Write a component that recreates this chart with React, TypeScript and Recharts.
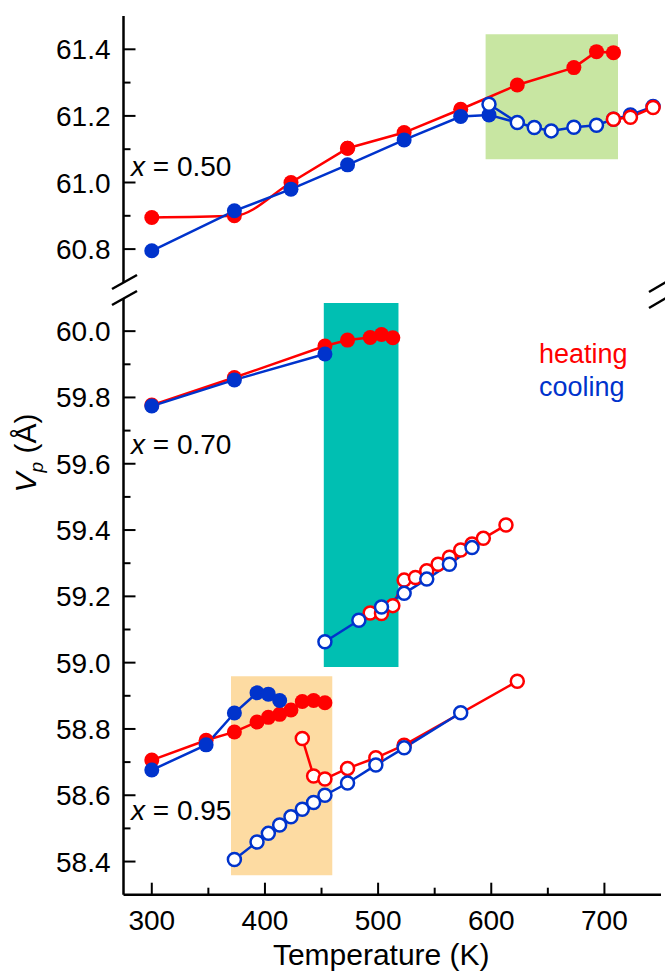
import React from "react";
import { LineChart, Line, XAxis, YAxis, ReferenceArea, Label } from "recharts";

type Pt = { T: number; V: number; link?: boolean };

const RED = "#ff0000";
const BLUE = "#0033cc";
const FONT = '"Liberation Sans", Arial, Helvetica, sans-serif';

const T_DOMAIN: [number, number] = [275, 750];
const T_TICKS = [300, 350, 400, 450, 500, 550, 600, 650, 700];
const TOP_DOMAIN: [number, number] = [60.7, 61.5];
const TOP_TICKS = [60.8, 60.9, 61.0, 61.1, 61.2, 61.3, 61.4];
const BOTTOM_DOMAIN: [number, number] = [58.3, 60.1];
const BOTTOM_TICKS = [
  58.4, 58.5, 58.6, 58.7, 58.8, 58.9, 59.0, 59.1, 59.2, 59.3, 59.4, 59.5,
  59.6, 59.7, 59.8, 59.9, 60.0,
];

// x = 0.50
const heat050: Pt[] = [
  { T: 300, V: 60.895 },
  { T: 373, V: 60.9 },
  { T: 423, V: 61.0 },
  { T: 473, V: 61.103 },
  { T: 523, V: 61.15 },
  { T: 573, V: 61.22 },
  { T: 623, V: 61.293 },
  { T: 673, V: 61.345 },
  { T: 693, V: 61.393 },
  { T: 708, V: 61.39 },
];
const cool050: Pt[] = [
  { T: 300, V: 60.795 },
  { T: 373, V: 60.915 },
  { T: 423, V: 60.98 },
  { T: 473, V: 61.053 },
  { T: 523, V: 61.128 },
  { T: 573, V: 61.198 },
  { T: 598, V: 61.203 },
  { T: 623, V: 61.18, link: true },
];
const cool050Open: Pt[] = [
  { T: 598, V: 61.235 },
  { T: 623, V: 61.18 },
  { T: 638, V: 61.165 },
  { T: 653, V: 61.155 },
  { T: 673, V: 61.166 },
  { T: 693, V: 61.172 },
  { T: 708, V: 61.19 },
  { T: 723, V: 61.203 },
  { T: 743, V: 61.228 },
];
const heat050Open: Pt[] = [
  { T: 708, V: 61.19 },
  { T: 723, V: 61.196 },
  { T: 743, V: 61.225 },
];

// x = 0.70
const heat070: Pt[] = [
  { T: 300, V: 59.777 },
  { T: 373, V: 59.86 },
  { T: 453, V: 59.955 },
  { T: 473, V: 59.973 },
  { T: 493, V: 59.981 },
  { T: 503, V: 59.99 },
  { T: 513, V: 59.98 },
];
const cool070: Pt[] = [
  { T: 300, V: 59.774 },
  { T: 373, V: 59.853 },
  { T: 453, V: 59.931 },
];
const heat070Open: Pt[] = [
  { T: 493, V: 59.15 },
  { T: 503, V: 59.148 },
  { T: 513, V: 59.172 },
  { T: 523, V: 59.249 },
  { T: 533, V: 59.257 },
  { T: 543, V: 59.277 },
  { T: 553, V: 59.297 },
  { T: 563, V: 59.318 },
  { T: 573, V: 59.34 },
  { T: 583, V: 59.358 },
  { T: 593, V: 59.375 },
  { T: 613, V: 59.415 },
];
const cool070Open: Pt[] = [
  { T: 453, V: 59.063 },
  { T: 483, V: 59.128 },
  { T: 503, V: 59.168 },
  { T: 523, V: 59.209 },
  { T: 543, V: 59.252 },
  { T: 563, V: 59.297 },
  { T: 583, V: 59.347 },
];

// x = 0.95
const heat095: Pt[] = [
  { T: 300, V: 58.706 },
  { T: 348, V: 58.766 },
  { T: 373, V: 58.791 },
  { T: 393, V: 58.821 },
  { T: 403, V: 58.835 },
  { T: 413, V: 58.844 },
  { T: 423, V: 58.857 },
  { T: 433, V: 58.883 },
  { T: 443, V: 58.886 },
  { T: 453, V: 58.879 },
];
const cool095: Pt[] = [
  { T: 300, V: 58.676 },
  { T: 348, V: 58.752 },
  { T: 373, V: 58.848 },
  { T: 393, V: 58.909 },
  { T: 403, V: 58.905 },
  { T: 413, V: 58.886 },
];
const heat095Open: Pt[] = [
  { T: 433, V: 58.771 },
  { T: 443, V: 58.658 },
  { T: 453, V: 58.649 },
  { T: 473, V: 58.681 },
  { T: 498, V: 58.713 },
  { T: 523, V: 58.751 },
  { T: 623, V: 58.944 },
];
const cool095Open: Pt[] = [
  { T: 373, V: 58.406 },
  { T: 393, V: 58.459 },
  { T: 403, V: 58.485 },
  { T: 413, V: 58.51 },
  { T: 423, V: 58.535 },
  { T: 433, V: 58.558 },
  { T: 443, V: 58.578 },
  { T: 453, V: 58.6 },
  { T: 473, V: 58.637 },
  { T: 498, V: 58.691 },
  { T: 523, V: 58.743 },
  { T: 573, V: 58.849 },
];

type Series = {
  id: string;
  data: Pt[];
  color: string;
  open: boolean;
  curve: "linear" | "monotone";
};

// the low-temperature part of the x = 0.50 heating curve is a smooth spline
const TOP_SERIES: Series[] = [
  { id: "h050a", data: heat050.slice(0, 4), color: RED, open: false, curve: "monotone" },
  { id: "h050b", data: heat050.slice(3), color: RED, open: false, curve: "linear" },
  { id: "c050", data: cool050, color: BLUE, open: false, curve: "linear" },
  { id: "c050o", data: cool050Open, color: BLUE, open: true, curve: "linear" },
  { id: "h050o", data: heat050Open, color: RED, open: true, curve: "linear" },
];

const BOTTOM_SERIES: Series[] = [
  { id: "h070", data: heat070, color: RED, open: false, curve: "linear" },
  { id: "c070", data: cool070, color: BLUE, open: false, curve: "linear" },
  { id: "h070o", data: heat070Open, color: RED, open: true, curve: "linear" },
  { id: "c070o", data: cool070Open, color: BLUE, open: true, curve: "linear" },
  { id: "h095", data: heat095, color: RED, open: false, curve: "linear" },
  { id: "c095", data: cool095, color: BLUE, open: false, curve: "linear" },
  { id: "h095o", data: heat095Open, color: RED, open: true, curve: "linear" },
  { id: "c095o", data: cool095Open, color: BLUE, open: true, curve: "linear" },
];

const axisLine = { stroke: "#000", strokeWidth: 2.5 };

// eslint-disable-next-line @typescript-eslint/no-explicit-any
function YTick({ x, y, payload }: any) {
  const major = Math.round(payload.value * 10) % 2 === 0;
  return (
    <g>
      <line x1={x} x2={x + (major ? 12 : 7)} y1={y} y2={y} stroke="#000" strokeWidth={2} />
      {major && (
        <text x={x - 13} y={y + 10} textAnchor="end" fontSize={28} fontFamily={FONT} fill="#000">
          {payload.value.toFixed(1)}
        </text>
      )}
    </g>
  );
}

// eslint-disable-next-line @typescript-eslint/no-explicit-any
function XTick({ x, y, payload }: any) {
  const major = payload.value % 100 === 0;
  return (
    <g>
      <line x1={x} x2={x} y1={y} y2={y - (major ? 12 : 7)} stroke="#000" strokeWidth={2} />
      {major && (
        <text x={x} y={y + 35.5} textAnchor="middle" fontSize={28} fontFamily={FONT} fill="#000">
          {payload.value}
        </text>
      )}
    </g>
  );
}

// eslint-disable-next-line @typescript-eslint/no-explicit-any
function AxisTitle(props: any) {
  const vb = props.viewBox || { x: 0, y: 0, width: 0 };
  return (
    <text
      x={vb.x + vb.width / 2 - 11}
      y={vb.y + 70}
      textAnchor="middle"
      fontSize={30}
      fontFamily={FONT}
      fill="#000"
    >
      Temperature (K)
    </text>
  );
}

function makeDot(color: string, open: boolean) {
  // eslint-disable-next-line @typescript-eslint/no-explicit-any
  return (props: any) => {
    const { cx, cy, index, payload } = props;
    if (payload?.link || cx == null || cy == null) return <g key={index} />;
    return open ? (
      <circle key={index} cx={cx} cy={cy} r={6.5} fill="#fff" stroke={color} strokeWidth={2.5} />
    ) : (
      <circle key={index} cx={cx} cy={cy} r={7.5} fill={color} stroke="none" />
    );
  };
}

function renderLines(series: Series[]) {
  return series.map((s) => (
    <Line
      key={s.id}
      data={s.data}
      dataKey="V"
      type={s.curve}
      stroke={s.color}
      strokeWidth={2.5}
      dot={makeDot(s.color, s.open)}
      activeDot={false}
      isAnimationActive={false}
    />
  ));
}

export default function App() {
  return (
    <div
      style={{
        position: "absolute",
        left: 0,
        top: 0,
        width: 665,
        height: 973,
        background: "#fff",
        fontFamily: FONT,
      }}
    >
      <div style={{ position: "absolute", left: 0, top: 0 }}>
        <LineChart width={665} height={290} margin={{ top: 16, right: 4, bottom: 7.6, left: 23.5 }}>
          <XAxis
            dataKey="T"
            type="number"
            domain={T_DOMAIN}
            orientation="top"
            height={0}
            tick={false}
            tickLine={false}
            axisLine={axisLine}
            allowDataOverflow
          />
          <YAxis
            type="number"
            domain={TOP_DOMAIN}
            ticks={TOP_TICKS}
            interval={0}
            width={100}
            tickSize={0}
            tickMargin={0}
            tickLine={false}
            tick={<YTick />}
            axisLine={axisLine}
            allowDataOverflow
          />
          <YAxis
            yAxisId="right"
            orientation="right"
            type="number"
            domain={TOP_DOMAIN}
            width={0}
            tick={false}
            tickLine={false}
            axisLine={axisLine}
          />
          <ReferenceArea x1={595} x2={712} y1={61.07} y2={61.445} fill="#c8e6a2" fillOpacity={1} stroke="none" />
          {renderLines(TOP_SERIES)}
        </LineChart>
      </div>

      <div style={{ position: "absolute", left: 0, top: 290 }}>
        <LineChart width={665} height={683} margin={{ top: 8, right: 4, bottom: 0, left: 23.5 }}>
          <XAxis
            dataKey="T"
            type="number"
            domain={T_DOMAIN}
            ticks={T_TICKS}
            interval={0}
            height={78.3}
            tickSize={0}
            tickMargin={0}
            tickLine={false}
            tick={<XTick />}
            axisLine={axisLine}
            allowDataOverflow
          >
            <Label content={<AxisTitle />} />
          </XAxis>
          <YAxis
            type="number"
            domain={BOTTOM_DOMAIN}
            ticks={BOTTOM_TICKS}
            interval={0}
            width={100}
            tickSize={0}
            tickMargin={0}
            tickLine={false}
            tick={<YTick />}
            axisLine={axisLine}
            allowDataOverflow
          />
          <YAxis
            yAxisId="right"
            orientation="right"
            type="number"
            domain={BOTTOM_DOMAIN}
            width={0}
            tick={false}
            tickLine={false}
            axisLine={axisLine}
          />
          <ReferenceArea x1={452} x2={518} y1={58.987} y2={60.085} fill="#00bfb2" fillOpacity={1} stroke="none" />
          <ReferenceArea x1={370} x2={459.5} y1={58.359} y2={58.959} fill="#fddba2" fillOpacity={1} stroke="none" />
          {renderLines(BOTTOM_SERIES)}
        </LineChart>
      </div>

      <svg
        width={665}
        height={973}
        style={{ position: "absolute", left: 0, top: 0, pointerEvents: "none" }}
      >
        {/* axis breaks */}
        <g stroke="#000" strokeWidth={2.5}>
          <line x1={112} y1={289} x2={137} y2={275} />
          <line x1={112} y1={305} x2={137} y2={291} />
          <line x1={649} y1={292} x2={673} y2={278} />
          <line x1={649} y1={308} x2={673} y2={294} />
        </g>
        <text
          x={36}
          y={453}
          transform="rotate(-90 36 453)"
          textAnchor="middle"
          fontSize={30}
          fontFamily={FONT}
          fill="#000"
        >
          <tspan fontStyle="italic">V</tspan>
          <tspan fontStyle="italic" fontSize={19} dy={7}>
            p
          </tspan>
          <tspan dy={-7}> (Å)</tspan>
        </text>
        <g fontSize={28} fontFamily={FONT} fill="#000">
          <text x={131} y={176}>
            <tspan fontStyle="italic">x</tspan> = 0.50
          </text>
          <text x={131} y={454}>
            <tspan fontStyle="italic">x</tspan> = 0.70
          </text>
          <text x={131} y={820}>
            <tspan fontStyle="italic">x</tspan> = 0.95
          </text>
        </g>
        <text x={539} y={362.7} fontSize={27} fontFamily={FONT} fill={RED}>
          heating
        </text>
        <text x={539} y={396} fontSize={27} fontFamily={FONT} fill={BLUE}>
          cooling
        </text>
      </svg>
    </div>
  );
}
